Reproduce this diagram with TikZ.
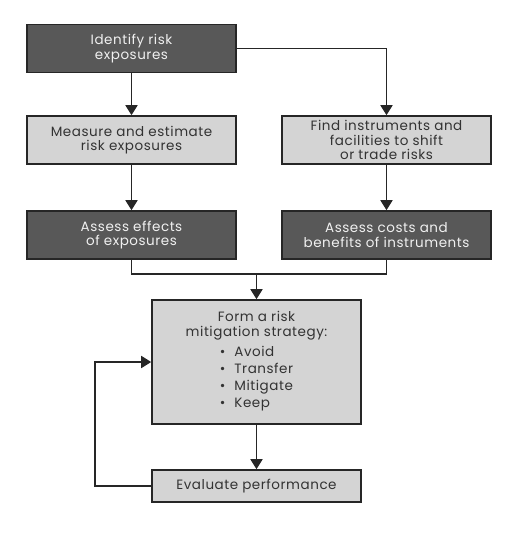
\documentclass[tikz,border=0pt]{standalone}
\usepackage{fontspec}
\setmainfont[LetterSpace=4]{Poppins}
\usetikzlibrary{arrows.meta}

\definecolor{caixaescura}{HTML}{585858}
\definecolor{caixaclara}{HTML}{D4D4D4}
\definecolor{textoclaro}{HTML}{F0F0F0}
\definecolor{textoescuro}{HTML}{333333}

\tikzset{
  caixa/.style={draw=black!85, line width=1.6pt, minimum width=209pt, minimum height=48pt,
    inner sep=0pt, align=center, font=\fontsize{13.5}{14.5}\selectfont},
  escura/.style={caixa, fill=caixaescura, text=textoclaro},
  clara/.style={caixa, fill=caixaclara, text=textoescuro},
  seta/.style={-{Triangle[length=10pt,width=12pt]}, line width=1.8pt, draw=black!85},
  linha/.style={line width=1.8pt, draw=black!85},
}

\begin{document}
\begin{tikzpicture}[x=1pt, y=-1pt]

\useasboundingbox (0,0) rectangle (508,538);

% Caixas de cima
\node[escura] (identificar) at (131.5,48.5) {Identify risk\\exposures};
\node[clara] (medir) at (131.5,140) {Measure and estimate\\risk exposures};
\node[clara] (instrumentos) at (386.5,140) {Find instruments and\\facilities to shift\\or trade risks};
\node[escura] (efeitos) at (131.5,235) {Assess effects\\of exposures};
\node[escura] (custos) at (386.5,235) {Assess costs and\\benefits of instruments};

% Estrategia e avaliacao
\node[clara, minimum height=124pt] (estrategia) at (256.5,362)
  {Form a risk\\mitigation strategy:\\[4pt]
   \renewcommand{\arraystretch}{1.17}%
   \begin{tabular}{@{}l@{\hspace{9pt}}l@{}}
   \textbullet & Avoid\\
   \textbullet & Transfer\\
   \textbullet & Mitigate\\
   \textbullet & Keep
   \end{tabular}};
\node[clara, minimum height=32pt] (avaliar) at (256.5,486) {Evaluate performance};

% Pontos das linhas
\coordinate (juncao) at (256.5,274);
\coordinate (volta) at (95,486);

% Setas
\draw[seta] (identificar) -- (medir);
\draw[seta] (identificar.east) -| (instrumentos.north);
\draw[seta] (medir) -- (efeitos);
\draw[seta] (instrumentos) -- (custos);
\draw[linha] (efeitos.south) |- (juncao);
\draw[linha] (custos.south) |- (juncao);
\draw[seta] (juncao) -- (estrategia.north);
\draw[seta] (estrategia) -- (avaliar);
\draw[seta] (avaliar.west) -- (volta) |- (estrategia.west);

\end{tikzpicture}
\end{document}
